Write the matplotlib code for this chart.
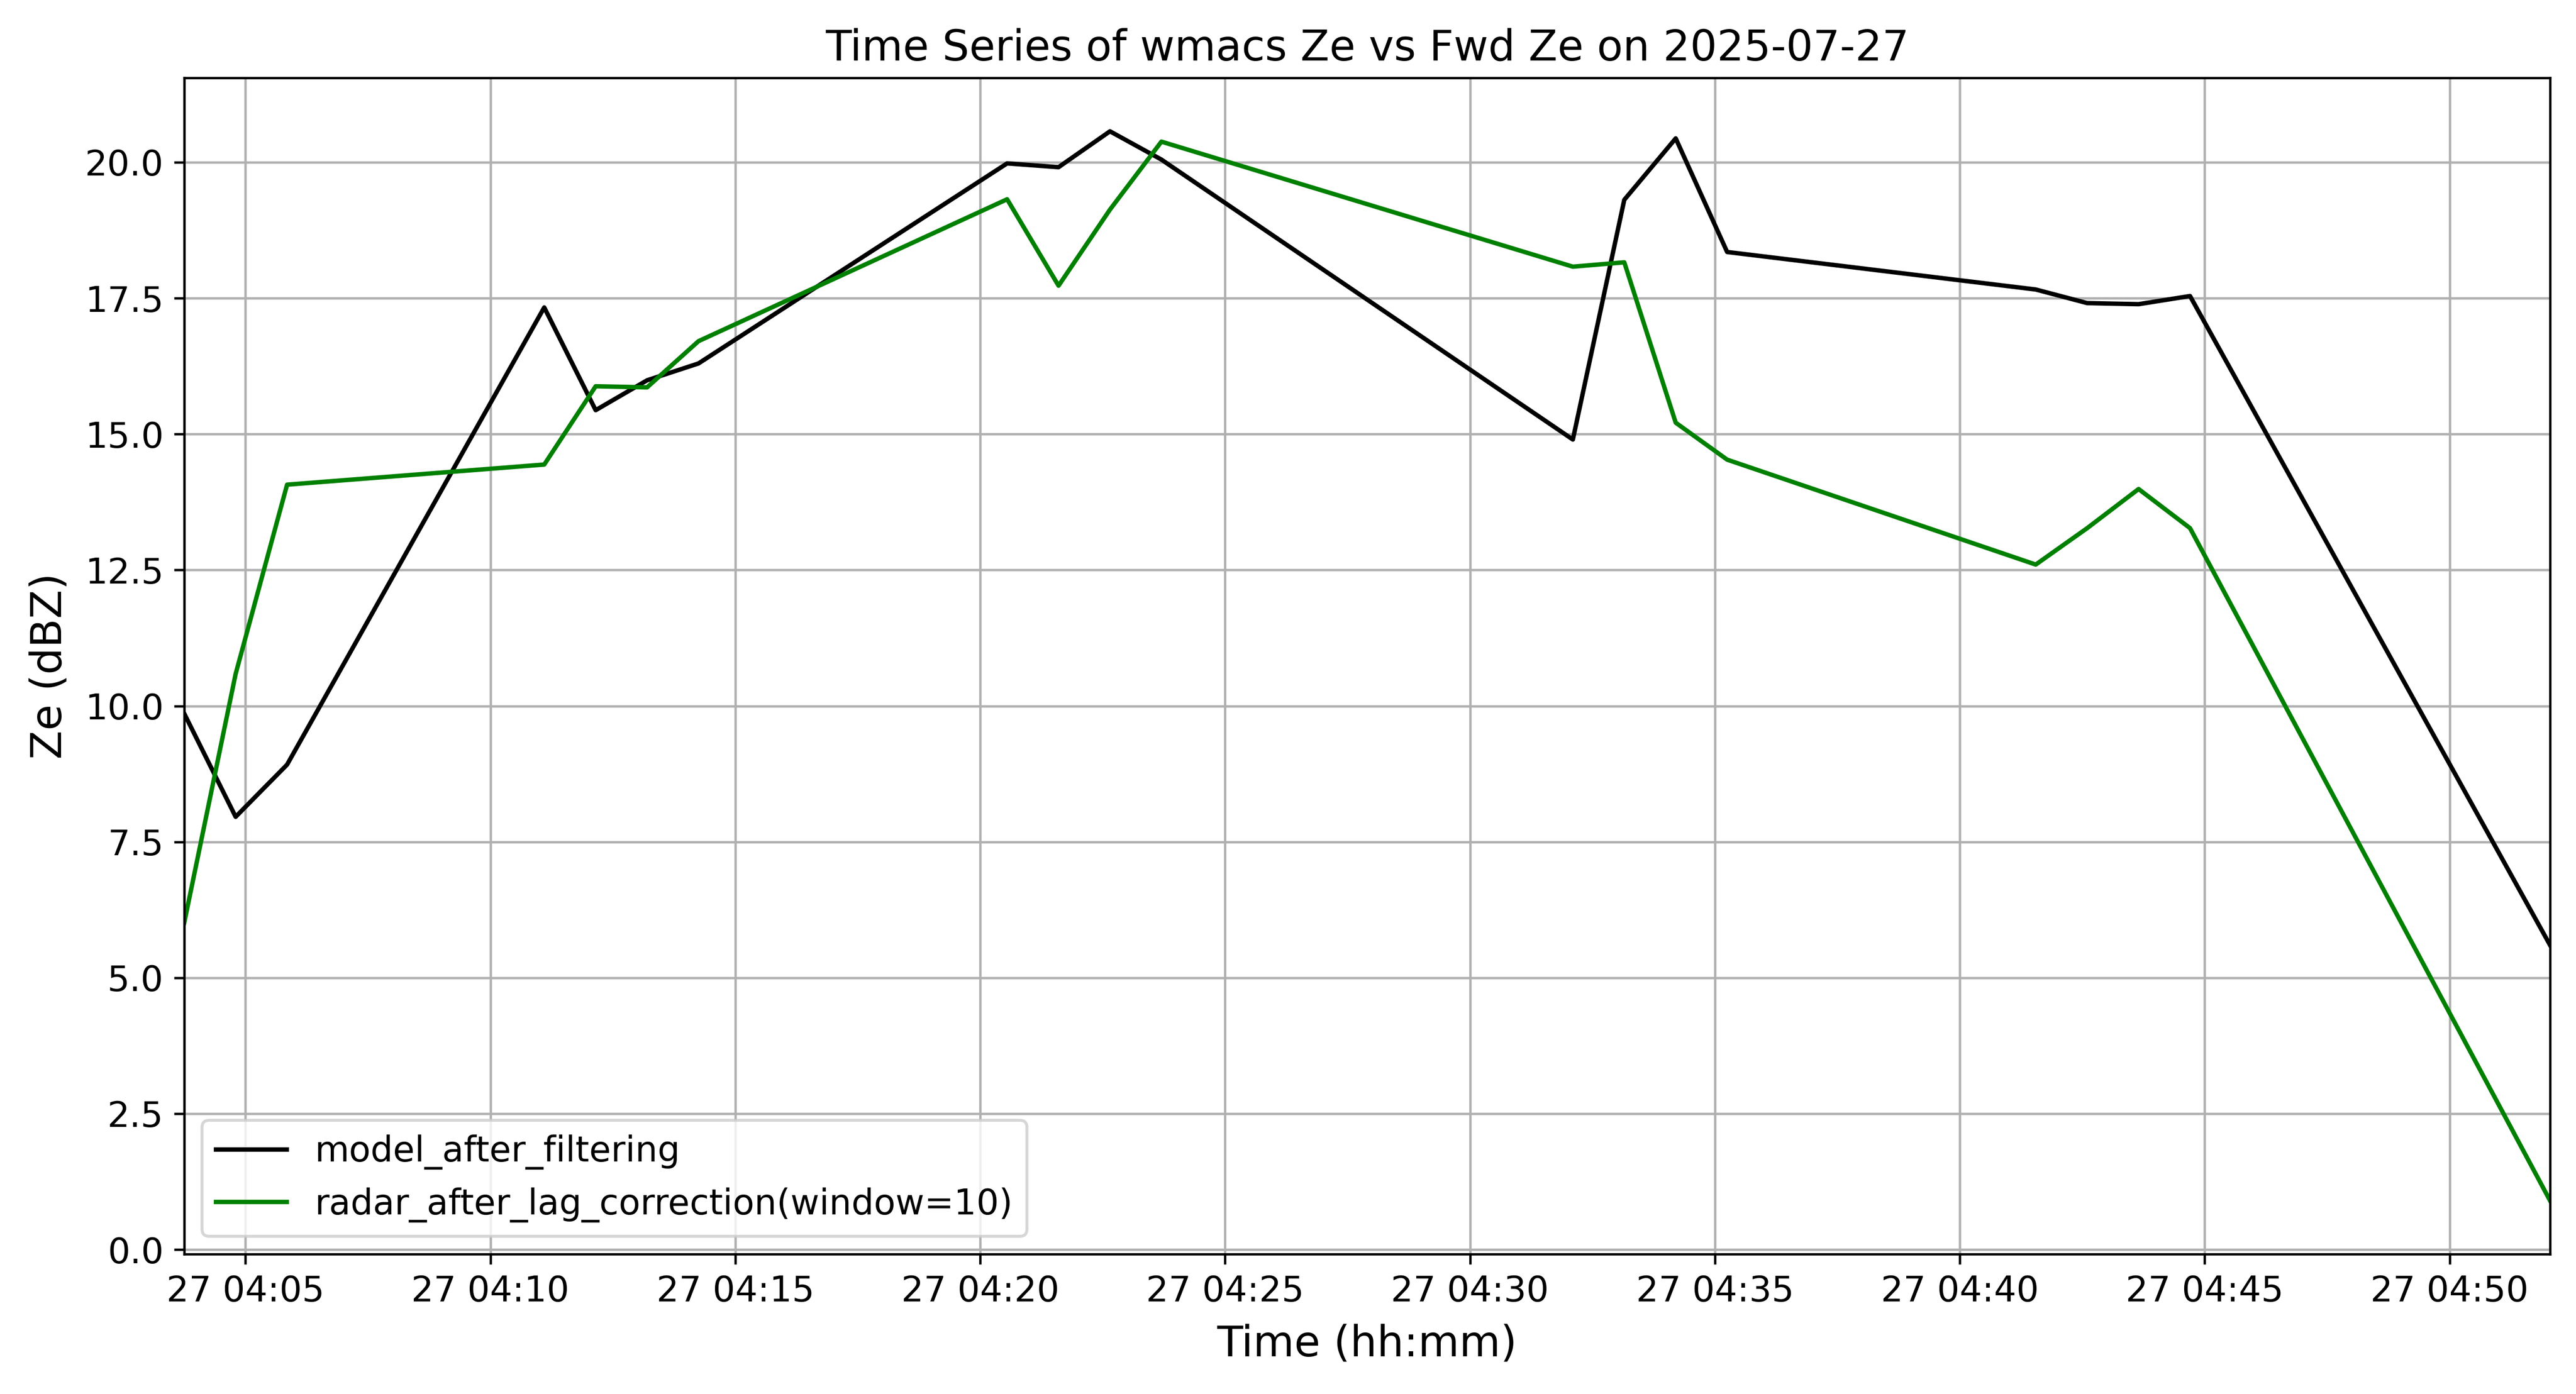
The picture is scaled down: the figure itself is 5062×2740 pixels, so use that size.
import pandas as pd
import matplotlib
matplotlib.use("Agg")
from matplotlib import pyplot as plt
import matplotlib.dates as mdates

plt.rcParams['font.size'] = 12

# sample times on 2025-07-27 (gaps are filtered-out samples)
times = ["04:03:45", "04:04:48", "04:05:51",
         "04:11:06", "04:12:09", "04:13:12", "04:14:15",
         "04:20:33", "04:21:36", "04:22:39", "04:23:42",
         "04:32:06", "04:33:09", "04:34:12", "04:35:15",
         "04:41:33", "04:42:36", "04:43:39", "04:44:42",
         "04:52:03"]

model_ze = [9.86, 7.96, 8.92,
            17.33, 15.44, 15.99, 16.30,
            19.98, 19.91, 20.57, 20.05,
            14.90, 19.31, 20.44, 18.35,
            17.66, 17.41, 17.39, 17.54,
            5.60]

radar_ze = [6.01, 10.59, 14.07,
            14.44, 15.88, 15.86, 16.71,
            19.32, 17.73, 19.13, 20.38,
            18.08, 18.16, 15.21, 14.53,
            12.60, 13.27, 13.99, 13.27,
            0.90]

t = pd.to_datetime(["2025-07-27 " + s for s in times])

DPI = 416
W, H = 5062, 2740
fig = plt.figure(figsize=(W / DPI, H / DPI), dpi=DPI)
ax = fig.add_axes([362 / W, 1 - 2465 / H, (5011 - 362) / W, (2465 - 153) / H])

ax.plot(t, model_ze, color='black', label='model_after_filtering')
ax.plot(t, radar_ze, color='green', label='radar_after_lag_correction(window=10)')

ax.set_xlim(t[0], t[-1])
ax.xaxis.set_major_locator(mdates.MinuteLocator(byminute=range(0, 60, 5)))
ax.xaxis.set_major_formatter(mdates.DateFormatter('%d %H:%M'))

ax.set_title('Time Series of wmacs Ze vs Fwd Ze on 2025-07-27')
ax.set_xlabel('Time (hh:mm)', fontsize=14.4, labelpad=5)
ax.set_ylabel('Ze (dBZ)', fontsize=14.4, labelpad=5)
ax.grid(True)
ax.legend(loc='lower left')

fig.savefig('out.png', dpi=DPI)
